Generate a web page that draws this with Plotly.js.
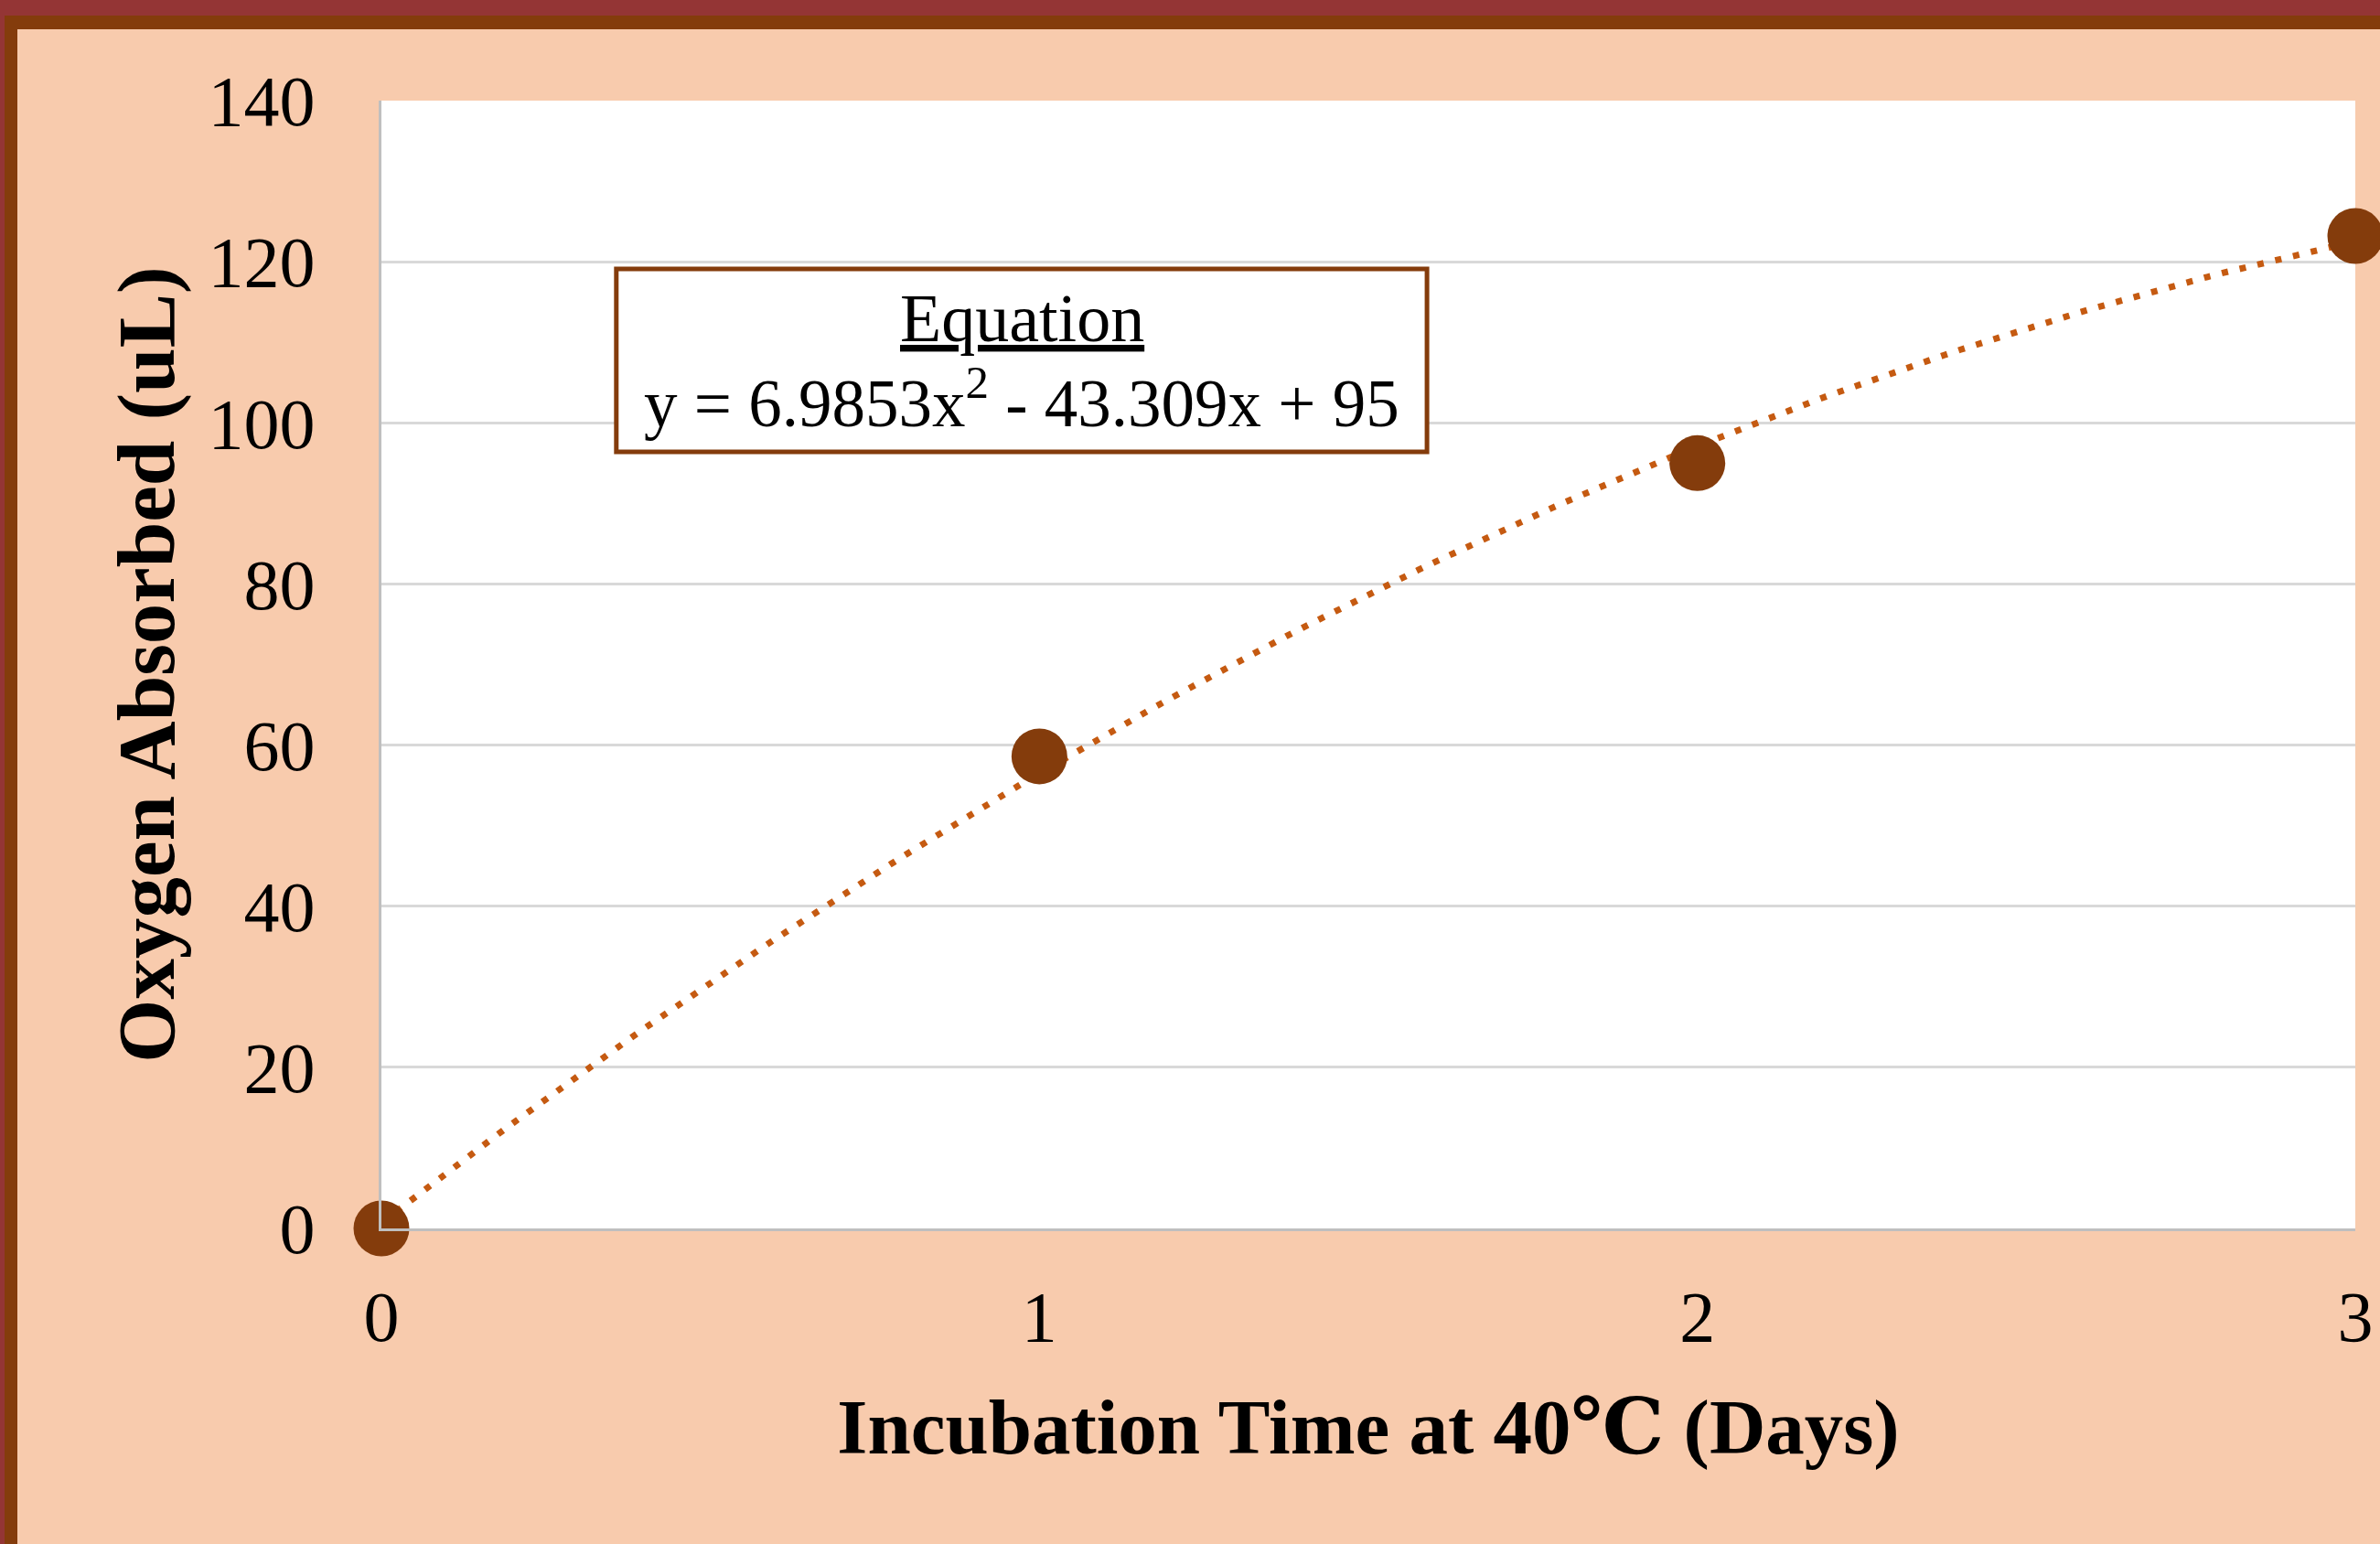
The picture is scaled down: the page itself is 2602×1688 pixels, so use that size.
<!DOCTYPE html>
<html>
<head>
<meta charset="utf-8">
<script src="https://cdn.plot.ly/plotly-3.0.1.min.js"></script>
<style>
  html, body { margin: 0; padding: 0; width: 2602px; height: 1688px; overflow: hidden; background: #943535; }
  #outer { position: absolute; left: 0; top: 0; width: 2602px; height: 1688px; background: #943535; }
  #inner { position: absolute; left: 5px; top: 17px; width: 2597px; height: 1671px; background: #843C0C; }
  #chart { position: absolute; left: 14px; top: 15px; width: 2583px; height: 1656px; }
</style>
</head>
<body>
<div id="outer"><div id="inner"><div id="chart"></div></div></div>
<script>
// ---- data ----
const days = [0, 1, 2, 3];
const oxygen = [0, 58.6, 95, 123.2];
const yTicks = [0, 20, 40, 60, 80, 100, 120, 140];
const xTicks = [0, 1, 2, 3];
const equationTitle = 'Equation';
const equationText = 'y = 6.9853x<sup>2</sup> - 43.309x + 95';
const xTitle = 'Incubation Time at 40℃ (Days)';
const yTitle = 'Oxygen Absorbed (uL)';

// Order-2 polynomial trendline (least squares fit of the data, as the spreadsheet trendline)
function polyFit2(xs, ys) {
  let S = [0,0,0,0,0], T = [0,0,0];
  for (let i = 0; i < xs.length; i++) {
    let p = 1;
    for (let k = 0; k < 5; k++) { S[k] += p; if (k < 3) T[k] += p * ys[i]; p *= xs[i]; }
  }
  const A = [[S[0],S[1],S[2],T[0]],[S[1],S[2],S[3],T[1]],[S[2],S[3],S[4],T[2]]];
  for (let c = 0; c < 3; c++) {
    for (let r = c + 1; r < 3; r++) {
      const f = A[r][c] / A[c][c];
      for (let k = c; k < 4; k++) A[r][k] -= f * A[c][k];
    }
  }
  const a = [0,0,0];
  for (let r = 2; r >= 0; r--) {
    let s = A[r][3];
    for (let k = r + 1; k < 3; k++) s -= A[r][k] * a[k];
    a[r] = s / A[r][r];
  }
  return a;
}
const coef = polyFit2(days, oxygen);
const trendX = [], trendY = [];
const nSteps = 120;
for (let i = 0; i <= nSteps; i++) {
  const x = days[0] + (days[days.length - 1] - days[0]) * i / nSteps;
  trendX.push(x);
  trendY.push(coef[0] + coef[1] * x + coef[2] * x * x);
}

const serif = 'Liberation Serif, Times New Roman, DejaVu Serif, serif';

const traces = [
  {
    x: trendX, y: trendY, type: 'scatter', mode: 'lines',
    line: { color: '#C55A11', width: 7, dash: '7px,13px' },
    hoverinfo: 'skip', showlegend: false, cliponaxis: false
  },
  {
    x: days, y: oxygen, type: 'scatter', mode: 'markers',
    marker: { color: '#843C0C', size: 61, line: { width: 0 } },
    showlegend: false, cliponaxis: false
  }
];

const layout = {
  width: 2583, height: 1656,
  paper_bgcolor: '#F8CBAD',
  plot_bgcolor: '#FFFFFF',
  margin: { l: 398, r: 27, t: 78, b: 345 },
  showlegend: false,
  font: { family: serif, color: '#000000', size: 78 },
  xaxis: {
    range: [0, 3],
    tickvals: xTicks,
    ticktext: xTicks.map(String),
    showgrid: false,
    zeroline: false,
    showline: true, linecolor: '#BFBFBF', linewidth: 3,
    ticks: '',
    ticklabelstandoff: 26,
    tickfont: { family: serif, size: 78, color: '#000000' },
    title: { text: xTitle, font: { family: serif, size: 85, color: '#000000', weight: 'bold' }, standoff: 48 },
    fixedrange: true
  },
  yaxis: {
    range: [0, 140],
    tickvals: yTicks,
    ticktext: yTicks.map(String),
    showgrid: true, gridcolor: '#D9D9D9', gridwidth: 3,
    zeroline: false,
    showline: true, linecolor: '#BFBFBF', linewidth: 3,
    ticks: '',
    ticklabelstandoff: 54,
    tickfont: { family: serif, size: 78, color: '#000000' },
    title: { text: yTitle, font: { family: serif, size: 89, color: '#000000', weight: 'bold' }, standoff: 8 },
    fixedrange: true
  },
  shapes: [
    {
      type: 'rect', xref: 'paper', yref: 'paper',
      x0: 0.119, x1: 0.5297, y0: 0.6886, y1: 0.8508,
      fillcolor: '#FFFFFF', line: { color: '#843C0C', width: 5 }, layer: 'above'
    }
  ],
  annotations: [
    {
      xref: 'paper', yref: 'paper', x: 0.3245, y: 0.807,
      xanchor: 'center', yanchor: 'middle', showarrow: false,
      text: '<u>' + equationTitle + '</u>',
      font: { family: serif, size: 74, color: '#000000' }
    },
    {
      xref: 'paper', yref: 'paper', x: 0.3245, y: 0.736,
      xanchor: 'center', yanchor: 'middle', showarrow: false,
      text: equationText,
      font: { family: serif, size: 73, color: '#000000' }
    }
  ]
};

Plotly.newPlot('chart', traces, layout, { staticPlot: true, displayModeBar: false });
</script>
</body>
</html>
